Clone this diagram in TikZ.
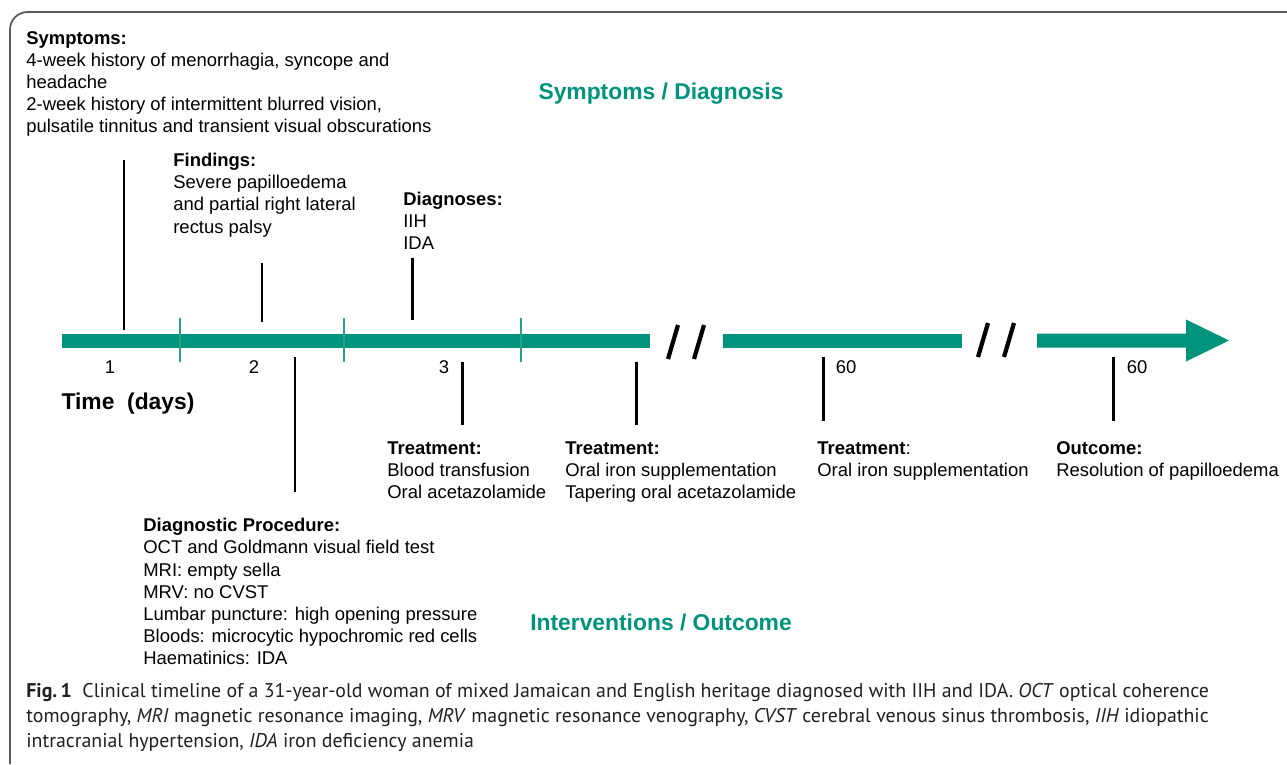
\documentclass[tikz,border=0pt]{standalone}
\usepackage{fontspec}
\setmainfont{Liberation Sans}
\newfontfamily\capfont{PT Sans}
\usetikzlibrary{positioning}

\definecolor{teal1}{RGB}{0,148,125}
\definecolor{teal2}{RGB}{38,160,136}
\definecolor{framegray}{RGB}{90,90,90}

\begin{document}
\begin{tikzpicture}[x=0.02cm, y=-0.02cm,
  txt/.style={anchor=north west, inner sep=0pt, align=left, font=\fontsize{10.5}{12.6}\selectfont},
  daylbl/.style={inner sep=0pt, font=\fontsize{10.5}{12.6}\selectfont},
  head/.style={inner sep=0pt, text=teal1, font=\fontsize{13}{15}\selectfont\bfseries},
  stem/.style={line width=1.7pt, black},
  brk/.style={line width=2.4pt, black},
  tick/.style={line width=1.3pt, teal2}]
\def\ly{340.5}

\useasboundingbox (0,0) rectangle (1287,764);
\fill[white] (0,0) rectangle (1287,764);

% frame
\draw[framegray, line width=1pt, rounded corners=10pt] (10,764) -- (10,12) -- (1287,12);

% time line
\fill[teal1] (62,\ly-7) rectangle (650,\ly+7);
\fill[teal1] (723,\ly-7) rectangle (962,\ly+7);
\fill[teal1] (1037,\ly-7) -- (1186,\ly-7) -- (1186,\ly-21) -- (1229,\ly)
  -- (1186,\ly+21) -- (1186,\ly+7) -- (1037,\ly+7) -- cycle;

\foreach \x in {180,344,521} {
  \draw[tick] (\x,318) -- (\x,362);
}

\draw[brk] (668,359) -- (678,325);
\draw[brk] (694,359) -- (704,325);
\draw[brk] (978,357) -- (988,323);
\draw[brk] (1004,357) -- (1014,323);

% stems above
\draw[stem] (124,160) -- (124,330);
\draw[stem] (262,263) -- (262,322);
\draw[stem] (412,258) -- (412,320);
% stems below
\draw[stem] (295,357) -- (295,492);
\draw[stem] (462,362) -- (462,425);
\draw[stem] (636,362) -- (636,425);
\draw[stem] (823,357) -- (823,421);
\draw[stem] (1113,357) -- (1113,421);

% day labels
\node[daylbl] (d1) at (110,367) {1};
\node[daylbl] (d2) at (254,367) {2};
\node[daylbl] (d3) at (444,367) {3};
\node[daylbl] (d60a) at (846,367) {60};
\node[daylbl] (d60b) at (1137,367) {60};
\node[inner sep=0pt, font=\fontsize{13}{15}\selectfont\bfseries] (time) at (128,404) {Time\ \ (days)};

\node[head] (hdiag) at (661,94) {Symptoms / Diagnosis};
\node[head] (hout) at (661,622) {Interventions / Outcome};

\node[txt] (sympt) at (26,31) {\textbf{Symptoms:}\\4-week history of menorrhagia, syncope and\\headache\\2-week history of intermittent blurred vision,\\pulsatile tinnitus and transient visual obscurations};
\node[txt] (find) at (173,153) {\textbf{Findings:}\\Severe papilloedema\\and partial right lateral\\rectus palsy};
\node[txt] (diag) at (403,192) {\textbf{Diagnoses:}\\IIH\\IDA};
\node[txt] (proc) at (143,518) {\textbf{Diagnostic Procedure:}\\OCT and Goldmann visual field test\\MRI: empty sella\\MRV: no CVST\\Lumbar puncture: high opening pressure\\Bloods: microcytic hypochromic red cells\\Haematinics: IDA};
\node[txt] (treatA) at (387,441) {\textbf{Treatment:}\\Blood transfusion\\Oral acetazolamide};
\node[txt] (treatB) at (565,441) {\textbf{Treatment:}\\Oral iron supplementation\\Tapering oral acetazolamide};
\node[txt] (treatC) at (817,441) {\textbf{Treatment}:\\Oral iron supplementation};
\node[txt] (outc) at (1056,441) {\textbf{Outcome:}\\Resolution of papilloedema};

% caption
\node[anchor=north west, inner sep=0pt, align=left, text={rgb,255:red,35;green,31;blue,32},
  font=\capfont\fontsize{11.3}{14.2}\selectfont] (cap) at (26,683)
  {\textbf{Fig.\,1}\ \ Clinical timeline of a 31-year-old woman of mixed Jamaican and English heritage diagnosed with IIH and IDA. \textit{OCT} optical coherence\\
  tomography, \textit{MRI} magnetic resonance imaging, \textit{MRV} magnetic resonance venography, \textit{CVST} cerebral venous sinus thrombosis, \textit{IIH} idiopathic\\
  intracranial hypertension, \textit{IDA} iron deficiency anemia};
\end{tikzpicture}
\end{document}
